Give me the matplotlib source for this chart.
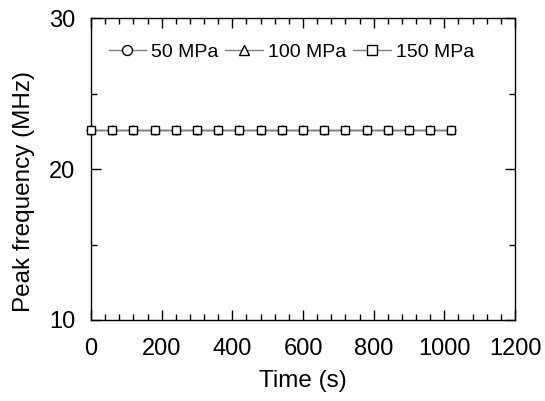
import matplotlib
matplotlib.use("Agg")
import matplotlib.pyplot as plt
from matplotlib.ticker import MultipleLocator

plt.rcParams['font.family'] = ['Liberation Sans', 'DejaVu Sans']

time_s = [0, 60, 120, 180, 240, 300, 360, 420, 480, 540, 600, 660, 720, 780, 840, 900, 960, 1020]
freq_50 = [22.6] * 18
freq_100 = [22.6] * 18
freq_150 = [22.6] * 18
labels = ["50 MPa", "100 MPa", "150 MPa"]
markers = ["o", "^", "s"]

fig = plt.figure(figsize=(5.45, 4.01), dpi=100)
ax = fig.add_axes([91/545, 1-320/401, (515-91)/545, (320-18)/401])

for y, lab, m in zip([freq_50, freq_100, freq_150], labels, markers):
    ax.plot(time_s, y, color='#808080', lw=1.0, marker=m, markersize=6,
            markerfacecolor='white', markeredgecolor='black', markeredgewidth=1.0,
            label=lab, clip_on=False, zorder=3)

ax.set_xlim(0, 1200)
ax.set_ylim(10, 30)
ax.xaxis.set_major_locator(MultipleLocator(200))
ax.xaxis.set_minor_locator(MultipleLocator(40))
ax.yaxis.set_major_locator(MultipleLocator(10))
ax.yaxis.set_minor_locator(MultipleLocator(5))
ax.tick_params(which='both', direction='in', top=True, right=True, labelsize=17, width=1)
ax.tick_params(axis='x', pad=13)
ax.tick_params(axis='y', pad=11.5)
ax.tick_params(which='major', length=7)
ax.tick_params(which='minor', length=4)
for s in ax.spines.values():
    s.set_linewidth(1.0)

ax.set_xlabel("Time (s)", fontsize=17.5, labelpad=7)
ax.set_ylabel("Peak frequency (MHz)", fontsize=17.5)
ax.yaxis.set_label_coords(-0.132, 0.427)

leg = ax.legend(loc='upper left', ncol=3, frameon=False, fontsize=14,
                handlelength=1.95, handletextpad=0.25, columnspacing=0.35,
                markerscale=1.2,
                bbox_to_anchor=(0.0, 0.975), borderaxespad=0.6, borderpad=0.3)

fig.savefig("out.png", dpi=100)
